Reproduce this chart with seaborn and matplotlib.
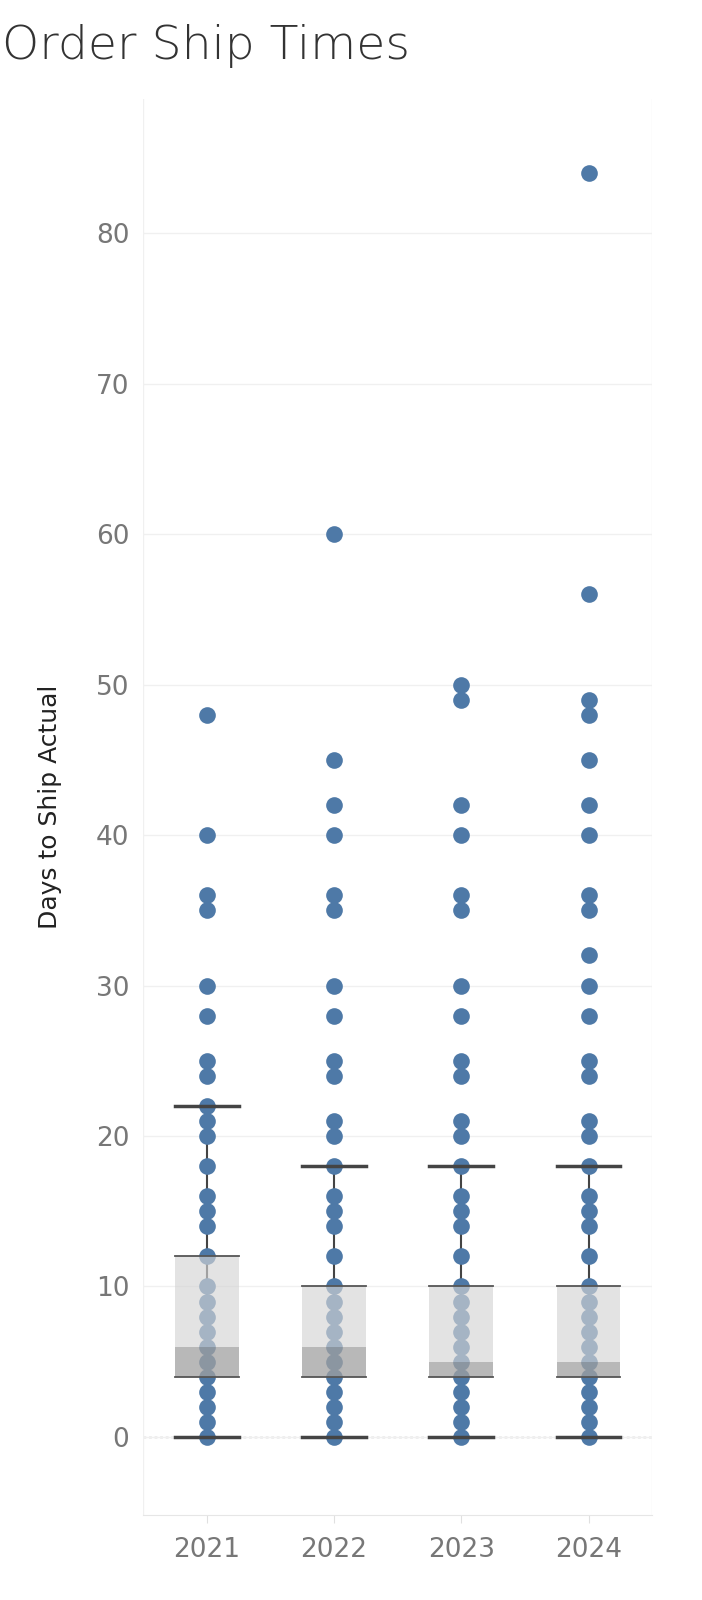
import matplotlib
matplotlib.use("Agg")
import matplotlib.pyplot as plt
import seaborn as sns
import pandas as pd

years = ["2021", "2022", "2023", "2024"]
d2021 = [0,1,2,3,4,5,6,7,8,9,10,12,14,15,16,18,20,21,22,24,25,28,30,35,36,40,48]
d2022 = [0,1,2,3,4,5,6,7,8,9,10,12,14,15,16,18,20,21,24,25,28,30,35,36,40,42,45,60]
d2023 = [0,1,2,3,4,5,6,7,8,9,10,12,14,15,16,18,20,21,24,25,28,30,35,36,40,42,49,50]
d2024 = [0,1,2,3,4,5,6,7,8,9,10,12,14,15,16,18,20,21,24,25,28,30,32,35,36,40,42,45,48,49,56,84]
q1 = [4, 4, 4, 4]
med = [6, 6, 5, 5]
q3 = [12, 10, 10, 10]
whisk_lo = [0, 0, 0, 0]
whisk_hi = [22, 18, 18, 18]
yticks = [0, 10, 20, 30, 40, 50, 60, 70, 80]

rows = []
for y, d in zip(years, [d2021, d2022, d2023, d2024]):
    rows += [(y, v) for v in d]
df = pd.DataFrame(rows, columns=["Year", "Days"])

fig = plt.figure(figsize=(7.02, 16), dpi=100)
ax = fig.add_axes([0.204, 0.053, 0.725, 0.885])
sns.stripplot(data=df, x="Year", y="Days", order=years, jitter=False, size=12,
              color="#4e79a7", ax=ax, zorder=2)
w = 0.25
for i in range(4):
    ax.plot([i, i], [whisk_lo[i], whisk_hi[i]], color="#444444", lw=1.5, zorder=1)
    ax.fill_between([i - w, i + w], med[i], q3[i], color="#d4d4d4", alpha=0.65, zorder=3, lw=0)
    ax.fill_between([i - w, i + w], q1[i], med[i], color="#a0a0a0", alpha=0.75, zorder=3, lw=0)
    for v in (q1[i], q3[i]):
        ax.plot([i - w, i + w], [v, v], color="#555555", lw=1.3, zorder=4)
    for v in (whisk_lo[i], whisk_hi[i]):
        ax.plot([i - w, i + w], [v, v], color="#444444", lw=2.5, zorder=4)
ax.axhline(0, color="#aaaaaa", lw=1, ls=(0, (2, 2)), zorder=0)
ax.set_ylim(-5.2, 88.9)
ax.set_xlim(-0.5, 3.5)
ax.set_yticks(yticks)
ax.grid(axis="y", color="#f0f0f0", lw=1)
ax.set_axisbelow(True)
for s in ["top", "right", "left"]:
    ax.spines[s].set_visible(False)
ax.spines["bottom"].set_color("#e6e6e6")
ax.axvline(-0.5, color="#f0f0f0", lw=1)
ax.axvline(3.5, color="#f0f0f0", lw=1)
ax.tick_params(axis="both", length=0, labelsize=19, labelcolor="#777777", pad=10)
ax.tick_params(axis="x", length=6, color="#e0e0e0", direction="out")
ax.set_xlabel("")
ax.set_ylabel("Days to Ship Actual", fontsize=18, color="#222222", labelpad=24, fontweight="medium")
fig.text(0.003, 0.971, "Order Ship Times", fontsize=34, color="#333333", va="center", fontweight="light")
fig.savefig("out.png", dpi=100)
